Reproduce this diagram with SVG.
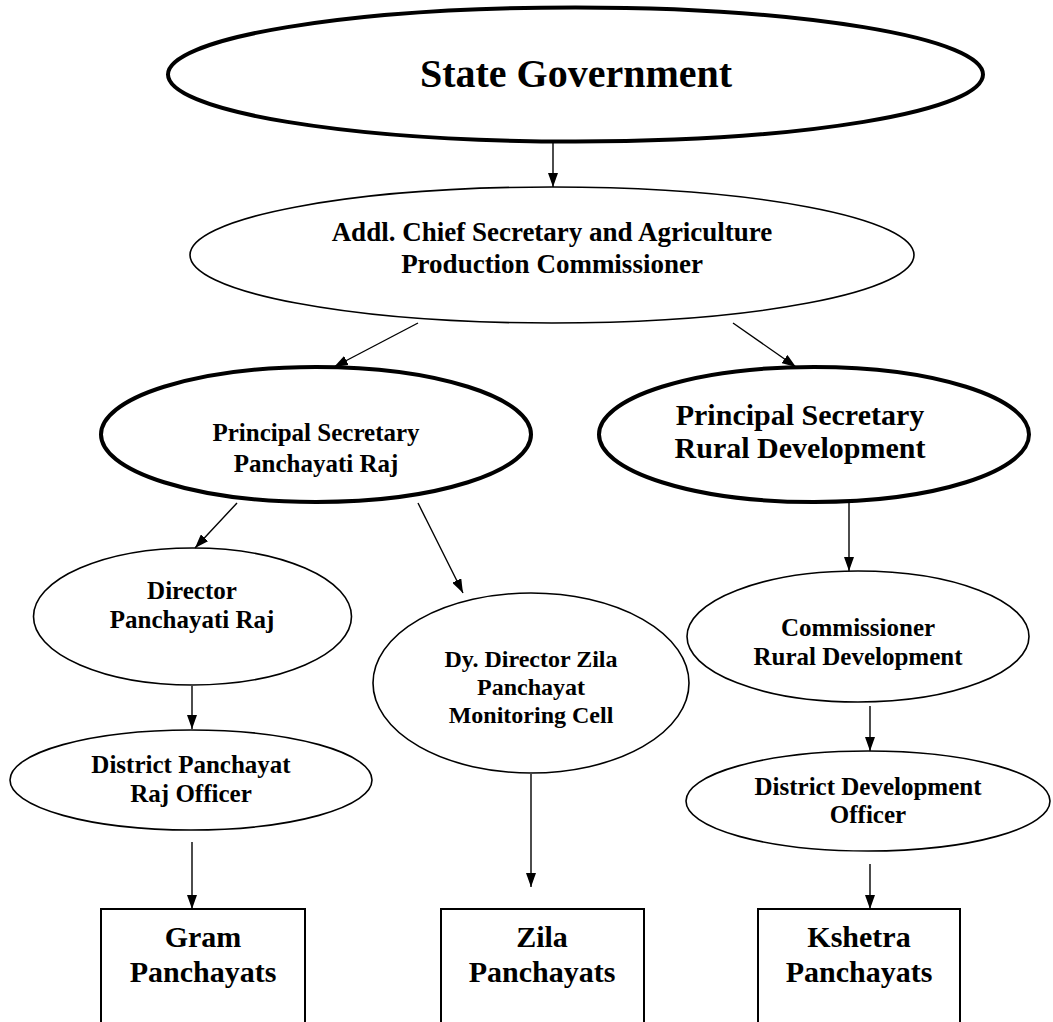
<svg xmlns="http://www.w3.org/2000/svg" width="1053" height="1022" viewBox="0 0 1053 1022">
  <style>
    text { font-family: "Liberation Serif", "Times New Roman", serif; font-weight: bold; text-anchor: middle; fill: #000; }
    .thick { fill: #fff; stroke: #000; stroke-width: 4; }
    .thin { fill: #fff; stroke: #000; stroke-width: 1.6; }
    .box { fill: #fff; stroke: #000; stroke-width: 2; }
    .conn line { stroke: #000; stroke-width: 1.4; marker-end: url(#arrow); }
  </style>
  <defs>
    <marker id="arrow" markerUnits="userSpaceOnUse" markerWidth="14" markerHeight="10" refX="14" refY="5" orient="auto">
      <path d="M0,0 L14,5 L0,10 z" fill="#000"/>
    </marker>
  </defs>
  <rect width="1053" height="1022" fill="#fff"/>

  <g id="state-government">
    <ellipse class="thick" cx="575.5" cy="74.5" rx="407.5" ry="67"/>
    <text x="576" y="87" font-size="40">State Government</text>
  </g>

  <g id="addl-chief-secretary">
    <ellipse class="thin" cx="552" cy="255" rx="362" ry="68"/>
    <text x="552" y="241" font-size="27">Addl. Chief Secretary and Agriculture</text>
    <text x="552" y="273" font-size="27">Production Commissioner</text>
  </g>

  <g id="ps-panchayati-raj">
    <ellipse class="thick" cx="316" cy="434.5" rx="215" ry="67.5"/>
    <text x="316" y="441" font-size="25">Principal Secretary</text>
    <text x="316" y="472" font-size="25">Panchayati Raj</text>
  </g>

  <g id="ps-rural-development">
    <ellipse class="thick" cx="814" cy="434.5" rx="215" ry="67.5"/>
    <text x="800" y="425" font-size="30">Principal Secretary</text>
    <text x="800" y="458" font-size="30">Rural Development</text>
  </g>

  <g id="director-panchayati-raj">
    <ellipse class="thin" cx="192.5" cy="616.5" rx="159" ry="68.5"/>
    <text x="192" y="599" font-size="25">Director</text>
    <text x="192" y="628" font-size="25">Panchayati Raj</text>
  </g>

  <g id="dy-director">
    <ellipse class="thin" cx="531" cy="683" rx="158" ry="90"/>
    <text x="531" y="667" font-size="24">Dy. Director Zila</text>
    <text x="531" y="695" font-size="24">Panchayat</text>
    <text x="531" y="723" font-size="24">Monitoring Cell</text>
  </g>

  <g id="commissioner-rd">
    <ellipse class="thin" cx="858" cy="636.5" rx="171" ry="65.5"/>
    <text x="858" y="636" font-size="25">Commissioner</text>
    <text x="858" y="665" font-size="25">Rural Development</text>
  </g>

  <g id="district-panchayat-raj-officer">
    <ellipse class="thin" cx="191" cy="780" rx="181" ry="50"/>
    <text x="191" y="773" font-size="25">District Panchayat</text>
    <text x="191" y="802" font-size="25">Raj Officer</text>
  </g>

  <g id="district-development-officer">
    <ellipse class="thin" cx="868" cy="801" rx="182" ry="50"/>
    <text x="868" y="795" font-size="25">District Development</text>
    <text x="868" y="823" font-size="25">Officer</text>
  </g>

  <g id="gram-panchayats">
    <rect class="box" x="101" y="909" width="204" height="130"/>
    <text x="203" y="947" font-size="30">Gram</text>
    <text x="203" y="982" font-size="30">Panchayats</text>
  </g>

  <g id="zila-panchayats">
    <rect class="box" x="441" y="909" width="203" height="130"/>
    <text x="542" y="947" font-size="30">Zila</text>
    <text x="542" y="982" font-size="30">Panchayats</text>
  </g>

  <g id="kshetra-panchayats">
    <rect class="box" x="758" y="909" width="202" height="130"/>
    <text x="859" y="947" font-size="30">Kshetra</text>
    <text x="859" y="982" font-size="30">Panchayats</text>
  </g>

  <g id="connectors" class="conn">
    <line x1="553" y1="143" x2="553" y2="187"/>
    <line x1="418" y1="323" x2="334" y2="367"/>
    <line x1="733" y1="323" x2="796" y2="367"/>
    <line x1="237" y1="503" x2="195" y2="548"/>
    <line x1="418" y1="503" x2="463" y2="593"/>
    <line x1="849" y1="503" x2="849" y2="571"/>
    <line x1="192" y1="686" x2="192" y2="729"/>
    <line x1="870" y1="706" x2="870" y2="751"/>
    <line x1="531" y1="774" x2="531" y2="887"/>
    <line x1="192" y1="842" x2="192" y2="909"/>
    <line x1="870" y1="864" x2="870" y2="909"/>
  </g>
</svg>
